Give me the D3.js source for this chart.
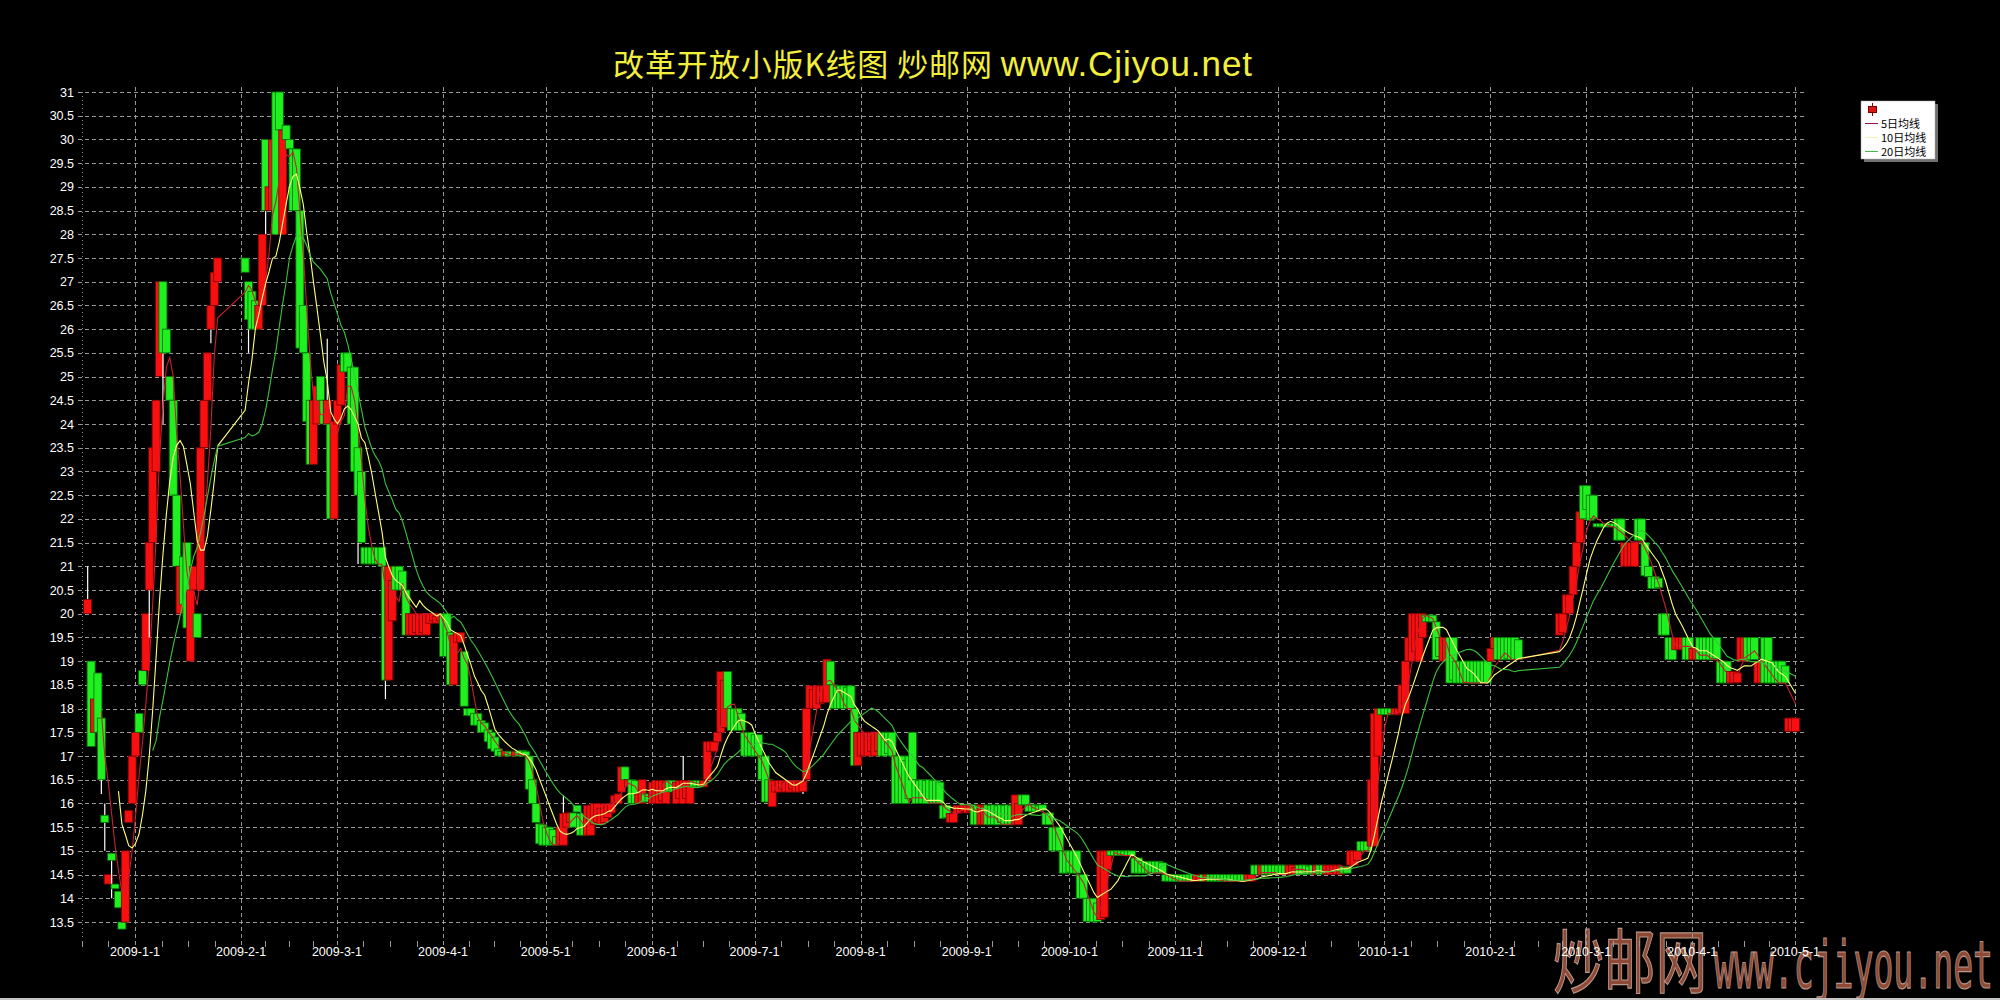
<!DOCTYPE html>
<html><head><meta charset="utf-8">
<script src="https://cdn.jsdelivr.net/npm/d3@7"></script>
<style>html,body{margin:0;padding:0;background:#000;}svg{display:block;}</style>
</head><body>
<svg id="chart" width="2000" height="1000"></svg>
<script>
// ---------------- DATA ----------------
const titleText = "改革开放小版K线图  炒邮网";
const titleUrl = "www.Cjiyou.net";
const watermarkCn = "炒邮网";
const watermarkUrl = "www.cjiyou.net";

// trading sessions (market closed during Spring Festival)
const sessions = [["2008-12-17","2009-01-24"],["2009-02-01","2010-02-08"],["2010-02-20","2010-04-30"]];

const opens = [
// Dec 2008
20.0,19.0,17.5,18.75,17.8,15.75,14.3,14.95,14.3,14.15,13.5,13.5,15.6,16.0,17.0,
// Jan 2009
17.9,18.8,18.8,20.5,21.5,23.0,25.0,27.0,26.0,25.0,24.5,22.5,20.0,21.2,21.5,19.0,20.5,20.0,20.5,23.5,24.5,26.0,26.5,27.0,
// Feb 2009
27.5,27.0,26.8,26.6,26.0,26.5,30.0,28.5,28.5,31.0,31.0,28.0,30.3,30.0,29.8,29.8,28.5,26.5,25.5,24.5,23.15,24.0,25.0,24.5,24.0,24.0,22.0,24.0,
// Mar 2009
24.4,25.5,25.5,25.2,25.2,23.5,23.0,21.4,21.4,21.4,21.4,21.4,21.4,21.0,18.6,19.85,21.0,21.0,20.9,20.5,19.55,19.55,19.6,19.55,19.6,19.55,19.8,19.85,19.8,19.85,20.0,
// Apr 2009
20.0,19.6,18.5,19.4,19.4,19.2,18.0,18.0,17.9,17.9,17.75,17.7,17.55,17.5,17.4,17.15,17.1,17.0,17.1,17.1,17.0,17.1,17.12,17.1,17.0,16.5,16.0,15.57,15.55,15.5,
// May 2009
15.5,15.45,15.3,15.12,15.12,15.5,15.6,15.8,15.96,15.79,15.79,15.33,15.33,15.55,15.6,15.55,15.6,15.7,15.8,16.0,16.0,16.24,16.77,16.35,16.5,16.48,16.0,16.0,16.2,16.2,16.0,
// Jun 2009
16.0,16.0,16.05,16.0,16.48,16.48,16.0,16.1,16.0,16.1,16.0,16.48,16.48,16.48,16.35,16.5,17.1,17.1,17.3,17.5,17.6,18.78,18.0,18.0,18.0,17.9,17.5,17.5,17.5,17.45,
// Jul 2009
17.45,17.0,17.0,16.5,15.93,16.24,16.24,16.3,16.24,16.24,16.3,16.24,16.24,16.25,16.5,18.0,18.0,18.0,18.1,18.13,18.13,19.0,18.5,18.48,18.48,18.48,18.45,18.48,18.0,16.8,17.0,
// Aug 2009
17.0,17.0,17.1,17.0,17.1,17.5,17.5,17.5,17.5,17.0,17.0,17.0,16.9,17.0,17.5,16.5,16.48,16.5,16.48,16.5,16.48,16.48,16.45,15.96,15.96,15.6,15.6,15.79,15.8,15.83,15.8,
// Sep 2009
15.83,15.97,15.96,15.55,15.55,15.97,15.96,15.97,15.95,15.97,15.96,15.97,15.95,15.55,15.55,16.18,16.18,15.97,15.97,15.97,15.95,15.97,15.8,15.8,15.5,15.5,15.5,15.0,15.0,15.0,
// Oct 2009
15.0,15.0,14.5,14.5,14.0,14.0,14.0,13.9,13.55,13.6,14.6,15.0,15.0,15.0,15.0,15.0,15.0,15.0,14.85,14.85,14.78,14.78,14.78,14.78,14.78,14.78,14.75,14.5,14.5,14.5,14.5,
// Nov 2009
14.5,14.5,14.5,14.5,14.5,14.36,14.36,14.5,14.36,14.5,14.5,14.5,14.5,14.5,14.5,14.5,14.5,14.5,14.5,14.5,14.36,14.36,14.7,14.7,14.5,14.7,14.7,14.7,14.7,14.7,
// Dec 2009
14.7,14.7,14.5,14.5,14.5,14.7,14.7,14.7,14.68,14.7,14.5,14.7,14.7,14.5,14.5,14.55,14.5,14.5,14.67,14.67,14.7,14.7,14.8,15.2,15.2,15.2,15.1,15.1,17.0,18.0,18.0,
// Jan 2010
18.0,18.0,17.87,17.87,17.9,17.9,19.0,19.0,19.2,19.0,19.5,19.97,19.97,19.97,19.83,19.5,19.0,19.0,19.5,19.5,19.0,19.0,19.0,19.0,19.0,19.0,19.0,19.0,19.0,19.0,19.0,
// Feb 2010 (1-8)
19.27,19.5,19.5,19.5,19.5,19.5,19.5,19.45,
// Feb 2010 (20-28)
19.55,19.6,20.0,20.0,20.4,21.0,21.5,22.7,22.7,
// Mar 2010
22.5,22.5,21.9,21.9,21.9,21.9,21.9,21.9,22.0,22.0,21.0,21.0,21.0,21.0,22.0,22.0,21.5,21.0,20.78,20.78,20.75,20.0,20.0,19.5,19.5,19.24,19.24,19.24,19.5,19.5,19.03,
// Apr 2010
19.03,19.5,19.5,19.5,19.5,19.5,19.5,19.0,19.0,19.0,18.54,18.54,18.55,19.0,19.0,19.5,19.5,19.5,18.54,18.54,19.5,19.5,19.0,19.0,19.0,19.0,18.9,17.52,17.52,17.52
];

const closes = [
// Dec 2008
20.3,17.2,18.2,17.5,16.5,15.6,14.5,14.8,14.2,13.8,13.35,15.0,15.85,17.0,17.5,
// Jan 2009
17.5,18.5,20.0,21.5,23.5,24.5,27.0,25.5,25.5,24.5,22.5,21.0,21.0,20.2,19.7,20.5,21.0,19.5,23.5,24.5,25.5,26.5,27.2,27.5,
// Feb 2009
27.2,26.2,26.0,26.0,26.5,28.0,28.5,29.0,30.0,28.0,30.2,30.2,30.0,29.8,28.5,28.5,25.6,25.5,24.05,23.15,24.5,24.8,24.5,24.0,24.5,22.0,24.05,24.5,
// Mar 2009
25.25,25.1,25.1,24.0,23.0,22.5,21.5,21.05,21.05,21.05,21.05,21.05,21.0,18.6,21.0,20.7,20.5,20.5,20.5,19.55,20.0,20.0,20.0,20.0,20.0,20.0,20.0,20.0,19.95,20.0,19.1,
// Apr 2009
19.1,18.5,19.55,19.6,19.6,18.05,17.85,17.85,17.65,17.65,17.5,17.5,17.3,17.15,17.1,17.0,17.0,17.1,17.0,17.0,17.1,17.0,17.0,17.0,16.3,16.0,15.6,15.15,15.12,15.12,
// May 2009
15.12,15.15,15.12,15.5,15.79,15.8,15.8,15.5,15.82,15.33,15.33,15.96,15.96,16.0,16.0,15.9,16.0,16.0,16.0,16.17,16.2,16.77,16.5,16.5,16.0,16.0,16.2,16.5,16.03,16.03,16.45,
// Jun 2009
16.48,16.48,16.48,16.45,16.25,16.24,16.45,16.48,16.48,16.48,16.45,16.35,16.35,16.35,16.48,17.3,17.3,17.3,17.5,18.78,18.6,18.0,17.54,17.54,17.54,17.54,17.0,17.0,17.0,17.0,
// Jul 2009
17.0,16.5,16.03,16.03,16.48,16.48,16.48,16.48,16.45,16.48,16.48,16.48,16.45,16.48,18.0,18.48,18.4,18.48,18.48,18.48,19.04,18.5,18.0,18.0,18.0,18.0,18.0,18.0,16.8,17.5,17.5,
// Aug 2009
17.5,17.5,17.5,17.5,17.5,17.0,17.0,17.05,17.0,16.0,16.0,16.0,16.0,16.1,16.5,16.0,16.0,16.0,16.0,16.05,16.0,16.0,16.0,15.68,15.7,15.79,15.79,15.96,15.96,15.97,15.96,
// Sep 2009
15.97,15.55,15.55,15.97,15.95,15.55,15.55,15.55,15.55,15.6,15.55,15.55,15.55,16.18,16.0,15.97,15.97,15.83,15.83,15.83,15.83,15.85,15.55,15.55,15.0,15.0,15.0,14.53,14.53,14.55,
// Oct 2009
14.53,14.53,14.0,14.0,13.51,13.51,13.5,13.51,15.0,15.0,15.0,14.9,14.9,14.9,14.9,14.9,14.9,14.9,14.53,14.53,14.53,14.53,14.53,14.55,14.53,14.53,14.53,14.36,14.36,14.36,14.36,
// Nov 2009
14.36,14.36,14.36,14.36,14.36,14.5,14.5,14.36,14.5,14.36,14.36,14.36,14.36,14.36,14.36,14.36,14.36,14.36,14.36,14.36,14.5,14.5,14.5,14.5,14.7,14.5,14.5,14.5,14.5,14.5,
// Dec 2009
14.5,14.5,14.7,14.7,14.65,14.5,14.5,14.55,14.5,14.5,14.7,14.5,14.5,14.7,14.7,14.7,14.7,14.68,14.53,14.53,15.0,15.0,15.0,15.0,15.0,15.0,16.5,17.9,18.0,17.87,17.87,
// Jan 2010
17.87,17.87,18.0,18.0,18.5,19.0,19.5,20.0,20.0,20.0,20.0,19.83,19.83,19.83,19.03,19.1,19.5,19.5,18.54,18.6,18.54,18.54,18.54,18.54,18.54,18.54,18.54,18.54,18.54,18.54,19.27,
// Feb 2010 (1-8)
19.5,19.03,19.03,19.03,19.05,19.03,19.03,19.03,
// Feb 2010 (20-28)
20.0,20.0,20.4,20.4,21.0,21.5,22.15,22.0,22.2,
// Mar 2010
21.97,22.0,21.83,21.83,21.83,21.83,21.85,21.83,21.55,21.55,21.5,21.5,21.5,21.5,21.55,21.55,20.8,20.78,20.53,20.53,20.55,19.55,19.55,19.03,19.03,19.5,19.5,19.5,19.03,19.03,19.27,
// Apr 2010
19.27,19.03,19.03,19.03,19.03,19.03,19.05,18.54,18.54,18.54,18.78,18.78,18.75,19.5,19.5,19.03,19.03,19.03,19.0,19.0,18.54,18.54,18.54,18.54,18.54,18.54,18.54,17.8,17.8,17.8
];

// visible shadows: [date, high, low]
const wicks = [
["2008-12-17",21.0,20.0],["2008-12-21",17.8,16.2],["2008-12-22",16.0,15.0],["2008-12-24",14.95,14.0],
["2009-01-04",21.5,19.5],["2009-01-08",27.0,24.0],["2009-01-22",26.5,25.7],["2009-02-02",27.0,25.5],
["2009-02-07",30.0,28.0],["2009-02-25",25.8,22.1],["2009-03-06",23.5,21.05],["2009-03-14",21.0,18.2],
["2009-05-05",16.17,15.12],["2009-06-09",17.0,16.0],["2009-07-14",16.48,16.2]
];

const yTicks = [13.5,14,14.5,15,15.5,16,16.5,17,17.5,18,18.5,19,19.5,20,20.5,21,21.5,22,22.5,23,23.5,24,24.5,25,25.5,26,26.5,27,27.5,28,28.5,29,29.5,30,30.5,31];
const monthTicks = ["2009-1-1","2009-2-1","2009-3-1","2009-4-1","2009-5-1","2009-6-1","2009-7-1","2009-8-1","2009-9-1","2009-10-1","2009-11-1","2009-12-1","2010-1-1","2010-2-1","2010-3-1","2010-4-1","2010-5-1"];
const maPeriods = [5,10,20];
const maLabels = ["5日均线","10日均线","20日均线"];

// ---------------- STYLE ----------------
const maColors = ["#c81e32","#ffff7a","#3cc23c"];
const legendMaColors = ["#8c1450","#f4f4b0","#48b848"];
const UP = "#f81010", UPS = "#7a0000", DN = "#20f020", DNS = "#007000";
const GRID = "#9a9a9a";

// ---------------- BUILD ----------------
const DAY = 86400000;
const dates = [];
sessions.forEach(([a,b]) => { for (let t = Date.parse(a); t <= Date.parse(b); t += DAY) dates.push(new Date(t)); });
const n = Math.min(dates.length, opens.length, closes.length);
if (dates.length !== opens.length || opens.length !== closes.length) console.warn("length mismatch", dates.length, opens.length, closes.length);
const wmap = new Map(wicks.map(w => [w[0], w]));
const data = d3.range(n).map(i => {
  const o = opens[i], c = closes[i], key = dates[i].toISOString().slice(0,10), w = wmap.get(key);
  return {date: dates[i], o, c, h: w ? Math.max(w[1],o,c) : Math.max(o,c), l: w ? Math.min(w[2],o,c) : Math.min(o,c), wick: !!w};
});

const parseTick = s => { const [y,m,d] = s.split("-").map(Number); return new Date(Date.UTC(y,m-1,d)); };
const x = d3.scaleUtc().domain([parseTick("2009-1-1"), parseTick("2010-5-1")]).range([135, 1795]);
const y = d3.scaleLinear().domain([13.5, 31]).range([922, 92]);
const CW = 8;

const svg = d3.select("#chart");
svg.append("rect").attr("width",2000).attr("height",1000).attr("fill","#000");

// watermark
svg.append("text").attr("x",1553).attr("y",988).attr("font-family","Noto Sans CJK SC").attr("font-size",70)
  .attr("textLength",154).attr("lengthAdjust","spacingAndGlyphs")
  .attr("fill","#8e4a36").attr("stroke","#b8978a").attr("stroke-width",1.2).text(watermarkCn);
svg.append("text").attr("x",1714).attr("y",988).attr("font-family","DejaVu Sans Mono").attr("font-size",66)
  .attr("textLength",279).attr("lengthAdjust","spacingAndGlyphs")
  .attr("fill","#8e4a36").attr("stroke","#b8978a").attr("stroke-width",1.2).text(watermarkUrl);

// horizontal grid
const gGrid = svg.append("g");
gGrid.selectAll("line.h").data(yTicks).join("line")
  .attr("x1",78).attr("x2",1806)
  .attr("y1",d => Math.round(y(d))+0.5).attr("y2",d => Math.round(y(d))+0.5)
  .attr("stroke",GRID).attr("stroke-width",1).attr("stroke-dasharray","4,3");
// vertical grid at month starts
gGrid.selectAll("line.v").data(monthTicks).join("line")
  .attr("x1",d => Math.round(x(parseTick(d)))+0.5).attr("x2",d => Math.round(x(parseTick(d)))+0.5)
  .attr("y1",87).attr("y2",947)
  .attr("stroke",GRID).attr("stroke-width",1).attr("stroke-dasharray","4,3");
// y axis dotted line
svg.append("line").attr("x1",82.5).attr("x2",82.5).attr("y1",92).attr("y2",940)
  .attr("stroke","#8a8a8a").attr("stroke-width",1).attr("stroke-dasharray","1,3");
// minor x ticks (quarter months)
const minor = [];
for (let m = new Date(Date.UTC(2008,11,1)); m < parseTick("2010-5-1"); m = new Date(Date.UTC(m.getUTCFullYear(), m.getUTCMonth()+1, 1))) {
  const next = new Date(Date.UTC(m.getUTCFullYear(), m.getUTCMonth()+1, 1));
  for (let k = 1; k <= 3; k++) minor.push(new Date(+m + (next - m) * k / 4));
}
svg.append("g").selectAll("line").data(minor.filter(d => x(d) >= 78)).join("line")
  .attr("x1",d => Math.round(x(d))+0.5).attr("x2",d => Math.round(x(d))+0.5)
  .attr("y1",941).attr("y2",947).attr("stroke","#9a9a9a");

// y labels
svg.append("g").selectAll("text").data(yTicks).join("text")
  .attr("x",74).attr("y",d => y(d)+4.5).attr("text-anchor","end")
  .attr("font-family","Liberation Sans Narrow, Arial Narrow, Liberation Sans, Arial, sans-serif").attr("font-size",12.5)
  .attr("fill","#fff").text(d => String(d));
// x labels
svg.append("g").selectAll("text").data(monthTicks).join("text")
  .attr("x",d => x(parseTick(d))).attr("y",956).attr("text-anchor","middle")
  .attr("font-family","Liberation Sans Narrow, Arial Narrow, Liberation Sans, Arial, sans-serif").attr("font-size",12.5)
  .attr("fill","#fff").text(d => d);

// candles
const gC = svg.append("g");
data.forEach(d => {
  const xl = x(d.date), up = d.c >= d.o;
  if (d.wick) gC.append("line").attr("x1",xl+CW/2).attr("x2",xl+CW/2).attr("y1",y(d.h)).attr("y2",y(d.l))
      .attr("stroke","#ffffff").attr("stroke-width",1.2);
  const top = y(Math.max(d.o,d.c)), bot = y(Math.min(d.o,d.c));
  gC.append("rect").attr("x",xl).attr("y",top).attr("width",CW).attr("height",Math.max(2, bot-top))
    .attr("fill", up ? UP : DN).attr("stroke", up ? UPS : DNS).attr("stroke-width",0.8);
});

// moving averages
maPeriods.forEach((p, k) => {
  const vals = data.map((d,i) => i >= p-1 ? d3.mean(data.slice(i-p+1,i+1), e => e.c) : null);
  const line = d3.line().defined((v) => v != null).x((v,i) => x(data[i].date)+CW/2).y(v => y(v));
  svg.append("path").attr("d", line(vals)).attr("fill","none").attr("stroke",maColors[k]).attr("stroke-width",1.1);
});

// legend
const lg = svg.append("g");
lg.append("rect").attr("x",1864).attr("y",104).attr("width",74).attr("height",58).attr("fill","#707070");
lg.append("rect").attr("x",1861).attr("y",101).attr("width",74).attr("height",58).attr("fill","#fff").attr("stroke","#aaa").attr("stroke-width",0.5);
lg.append("line").attr("x1",1872.5).attr("x2",1872.5).attr("y1",103).attr("y2",116).attr("stroke","#900000");
lg.append("rect").attr("x",1868.5).attr("y",106.5).attr("width",8).attr("height",6).attr("fill","#d81818").attr("stroke","#800000");
maLabels.forEach((t,k) => {
  const yy = 123.5 + k*14;
  lg.append("line").attr("x1",1865).attr("x2",1878).attr("y1",yy).attr("y2",yy).attr("stroke",legendMaColors[k]).attr("stroke-width",1);
  lg.append("text").attr("x",1881).attr("y",yy+4).attr("font-family","Noto Sans CJK SC").attr("font-size",11).attr("fill","#000").text(t);
});

// title
const tt = svg.append("text").attr("x",613).attr("y",76).attr("fill","#f2ef3c")
  .attr("textLength",639).attr("lengthAdjust","spacing");
tt.append("tspan").attr("font-family","Noto Sans CJK SC").attr("font-size",31).text(titleText + " ");
tt.append("tspan").attr("font-family","Liberation Sans, Arial, sans-serif").attr("font-size",35).text(titleUrl);

// bottom border
svg.append("rect").attr("x",0).attr("y",998).attr("width",2000).attr("height",2).attr("fill","#c4c4c4");
</script>
</body></html>
